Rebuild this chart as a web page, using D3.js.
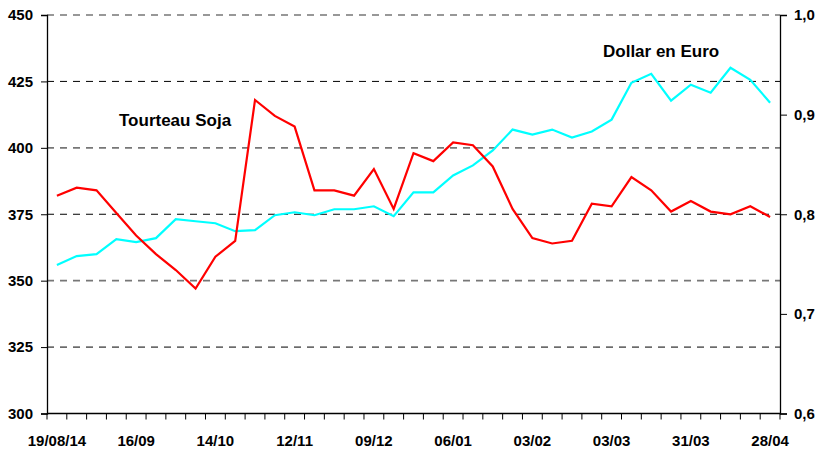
<!DOCTYPE html>
<html>
<head>
<meta charset="utf-8">
<script src="https://cdn.jsdelivr.net/npm/d3@7"></script>
<style>
  body { margin: 0; background: #fff; }
  svg text { font-family: "Liberation Sans", Arial, sans-serif; font-weight: bold; fill: #000; }
</style>
</head>
<body>
<div id="chart"></div>
<script>
// weekly dates, 19/08/14 -> 28/04/15
var dates = ["19/08/14","26/08","02/09","09/09","16/09","23/09","30/09","07/10","14/10","21/10",
  "28/10","04/11","12/11","18/11","25/11","02/12","09/12","16/12","23/12","30/12",
  "06/01","13/01","20/01","27/01","03/02","10/02","17/02","24/02","03/03","10/03",
  "17/03","24/03","31/03","07/04","14/04","21/04","28/04"]

// Tourteau Soja (left axis)
var soja = [382, 385, 384, 375.5, 367, 360, 354, 347, 359, 365,
  418, 412, 408, 384, 384, 382, 392, 377, 398, 395,
  402, 401, 393, 377, 366, 364, 365, 379, 378, 389,
  384, 376, 380, 376, 375, 378, 374]

// Dollar en Euro (right axis)
var dollar = [0.749, 0.758, 0.760, 0.775, 0.772, 0.776, 0.795, 0.793, 0.791, 0.783,
  0.784, 0.799, 0.802, 0.799, 0.805, 0.805, 0.808, 0.798, 0.822, 0.822,
  0.839, 0.849, 0.864, 0.885, 0.880, 0.885, 0.877, 0.883, 0.895, 0.932,
  0.941, 0.914, 0.930, 0.922, 0.947, 0.935, 0.912]

var leftTicks = [300, 325, 350, 375, 400, 425, 450]
var rightTicks = [0.6, 0.7, 0.8, 0.9, 1.0]

var width = 817, height = 450
var margin = { top: 15, right: 37, bottom: 36.5, left: 47 }

var svg = d3.select("#chart")
  .append("svg")
  .attr("width", width)
  .attr("height", height)

var xScale = d3.scaleBand()
  .domain(d3.range(dates.length))
  .range([margin.left, width - margin.right])

var yLeft = d3.scaleLinear()
  .domain([300, 450])
  .range([height - margin.bottom, margin.top])

var yRight = d3.scaleLinear()
  .domain([0.6, 1.0])
  .range([height - margin.bottom, margin.top])

var cx = i => xScale(i) + xScale.bandwidth() / 2

// dashed grid
svg.append("g")
  .selectAll("line")
  .data(leftTicks.slice(1))
  .enter()
  .append("line")
  .attr("x1", margin.left)
  .attr("x2", width - margin.right)
  .attr("y1", d => yLeft(d))
  .attr("y2", d => yLeft(d))
  .attr("stroke", (d, i) => i % 2 == 0 ? "#000" : "#777")
  .attr("stroke-width", (d, i) => i % 2 == 0 ? 1 : 1.6)
  .attr("stroke-dasharray", "7,6")

// series
var line = (ys, data) => d3.line()
  .x((d, i) => cx(i))
  .y(d => ys(d))(data)

svg.append("path")
  .attr("d", line(yRight, dollar))
  .attr("fill", "none")
  .attr("stroke", "#00ffff")
  .attr("stroke-width", 2.2)
  .attr("stroke-linejoin", "miter")

svg.append("path")
  .attr("d", line(yLeft, soja))
  .attr("fill", "none")
  .attr("stroke", "#ff0000")
  .attr("stroke-width", 2.2)

// left axis
var yAxisLeft = d3.axisLeft(yLeft)
  .tickValues(leftTicks)
  .tickSize(6)
  .tickPadding(8)
  .tickFormat(d3.format("d"))

svg.append("g")
  .attr("transform", `translate(${margin.left},0)`)
  .call(yAxisLeft)
  .call(g => g.select(".domain").attr("stroke-width", 1.3))
  .selectAll("text")
  .attr("font-size", "15px")

// right axis
var yAxisRight = d3.axisRight(yRight)
  .tickValues(rightTicks)
  .tickSize(7)
  .tickPadding(7)
  .tickFormat(d => d3.format(".1f")(d).replace(".", ","))

svg.append("g")
  .attr("transform", `translate(${width - margin.right},0)`)
  .call(yAxisRight)
  .call(g => g.select(".domain").attr("stroke-width", 1.3))
  .selectAll("text")
  .attr("font-size", "15px")

// x axis: ticks at every week boundary, labels every 4 weeks
var bounds = d3.range(dates.length + 1).map(i => margin.left + i * xScale.step())
var xAxisG = svg.append("g")
  .attr("transform", `translate(0,${height - margin.bottom})`)

xAxisG.append("line")
  .attr("x1", margin.left)
  .attr("x2", width - margin.right)
  .attr("stroke", "#000")
  .attr("stroke-width", 1.3)

xAxisG.selectAll(".tick")
  .data(bounds)
  .enter()
  .append("line")
  .attr("x1", d => d)
  .attr("x2", d => d)
  .attr("y1", 0)
  .attr("y2", 6)
  .attr("stroke", "#000")

xAxisG.selectAll(".lbl")
  .data(dates.map((d, i) => ({ d: d, i: i })).filter(o => o.i % 4 == 0))
  .enter()
  .append("text")
  .attr("x", o => cx(o.i))
  .attr("y", 32.5)
  .attr("text-anchor", "middle")
  .attr("font-size", "15px")
  .text(o => o.d)

// series labels
svg.append("text")
  .attr("x", 119)
  .attr("y", 126)
  .attr("font-size", "17px")
  .text("Tourteau Soja")

svg.append("text")
  .attr("x", 603)
  .attr("y", 57)
  .attr("font-size", "17px")
  .text("Dollar en Euro")
</script>
</body>
</html>
